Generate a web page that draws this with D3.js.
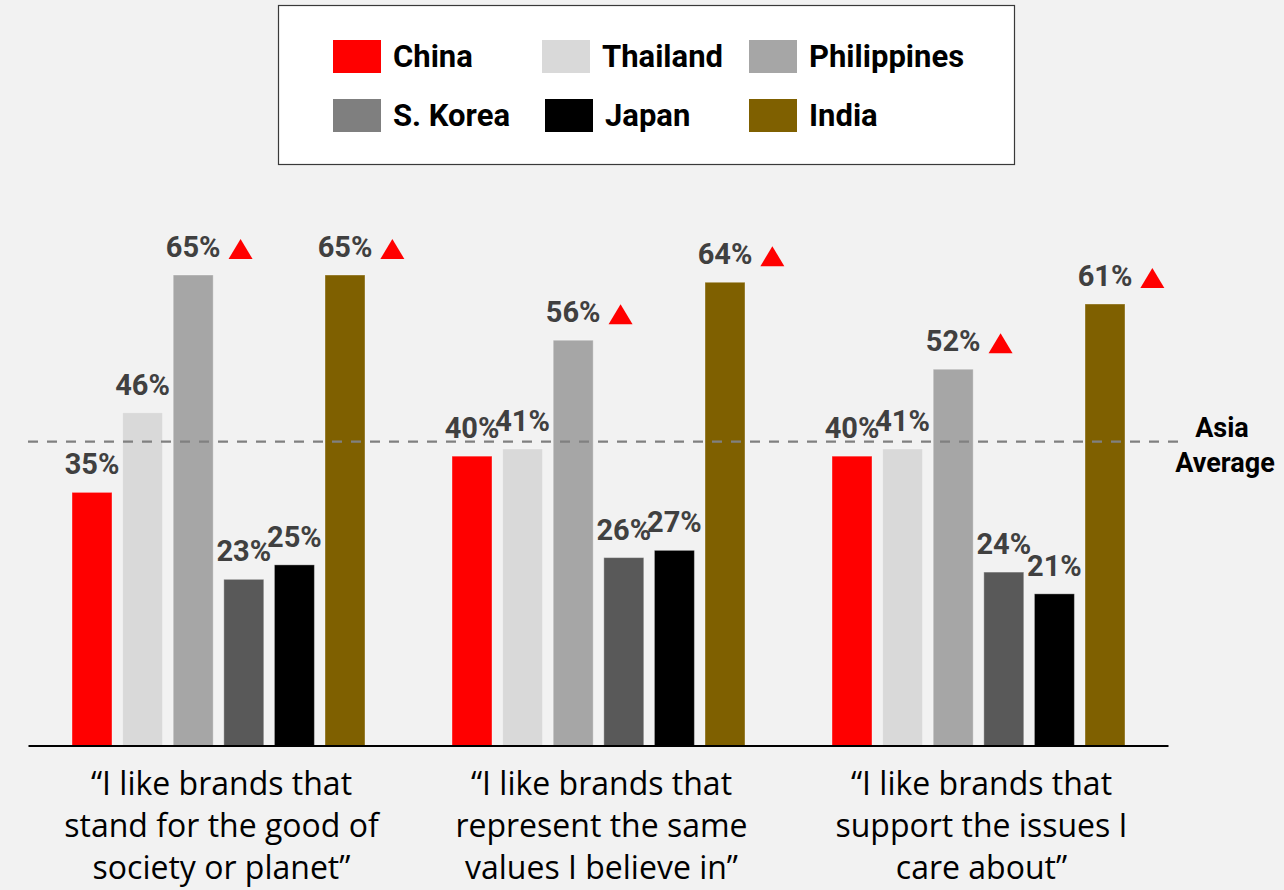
<!DOCTYPE html>
<html>
<head>
<meta charset="utf-8">
<script src="https://cdn.jsdelivr.net/npm/d3@7"></script>
<style>
  html, body { margin: 0; padding: 0; background: #f2f2f2; }
  svg { display: block; }
</style>
</head>
<body>
<svg id="chart" width="1284" height="890"></svg>
<script>
// Survey statements (one group per statement)
const statements = [
  ["“I like brands that", "stand for the good of", "society or planet”"],
  ["“I like brands that", "represent the same", "values I believe in”"],
  ["“I like brands that", "support the issues I", "care about”"]
];
const markets = ["China", "Thailand", "Philippines", "S. Korea", "Japan", "India"];

// Share agreeing, per market, per statement (%)
const chinaValues       = [35, 40, 40];
const thailandValues    = [46, 41, 41];
const philippinesValues = [65, 56, 52];
const koreaValues       = [23, 26, 24];
const japanValues       = [25, 27, 21];
const indiaValues       = [65, 64, 61];
const asiaAverage = 42;

// Markets flagged as above the Asia average
const flagged = ["Philippines", "India"];

const barColors    = ["#ff0000", "#d9d9d9", "#a6a6a6", "#595959", "#000000", "#7f6000"];
const legendColors = ["#ff0000", "#d9d9d9", "#a6a6a6", "#7f7f7f", "#000000", "#7f6000"];

const seriesValues = [chinaValues, thailandValues, philippinesValues, koreaValues, japanValues, indiaValues];
const groupIds = statements.map((d, i) => i);

const svg = d3.select("#chart");
const boldFont = "Roboto, 'DejaVu Sans Condensed', sans-serif";

const x0 = d3.scaleBand().domain(groupIds).range([28.5, 1168.5]).padding(0);
const x1 = d3.scaleBand().domain(markets).range([0, x0.bandwidth()])
  .paddingInner(0.21).paddingOuter(0.86);
const y = d3.scaleLinear().domain([0, 100]).range([746, 21.4]);

// Bars
const groups = svg.append("g").selectAll("g")
  .data(groupIds).join("g")
  .attr("transform", g => `translate(${x0(g)},0)`);

const cells = groups.selectAll("g.cell")
  .data(g => markets.map((m, i) => ({ g, m, i, v: seriesValues[i][g] })))
  .join("g").attr("class", "cell");

cells.append("rect")
  .attr("x", d => x1(d.m))
  .attr("y", d => y(d.v))
  .attr("width", x1.bandwidth())
  .attr("height", d => y(0) - y(d.v))
  .attr("fill", d => barColors[d.i])
  .attr("stroke", "#ffffff")
  .attr("stroke-opacity", 0.35)
  .attr("stroke-width", 1);

// Value labels
const labels = cells.append("text")
  .attr("x", d => x1(d.m) + x1.bandwidth() / 2)
  .attr("y", d => y(d.v) - 18)
  .attr("text-anchor", "middle")
  .attr("font-family", boldFont)
  .attr("font-weight", "bold")
  .attr("font-size", 29)
  .attr("fill", "#404040")
  .text(d => d.v + "%");

// Red up-triangles after labels of flagged markets
labels.each(function(d) {
  if (!flagged.includes(d.m)) return;
  const w = this.getComputedTextLength();
  const cx = x1(d.m) + x1.bandwidth() / 2 + w / 2 + 20;
  const by = y(d.v) - 16;
  d3.select(this.parentNode).append("path")
    .attr("d", `M${cx - 12},${by} L${cx + 12},${by} L${cx},${by - 20} Z`)
    .attr("fill", "#ff0000");
});

// Baseline
svg.append("line")
  .attr("x1", x0.range()[0]).attr("x2", x0.range()[1])
  .attr("y1", y(0)).attr("y2", y(0))
  .attr("stroke", "#000").attr("stroke-width", 2);

// Asia average reference line
svg.append("line")
  .attr("x1", 28).attr("x2", 1183)
  .attr("y1", y(asiaAverage)).attr("y2", y(asiaAverage))
  .attr("stroke", "#808080").attr("stroke-width", 2.2)
  .attr("stroke-dasharray", "10,9");

const avgText = svg.append("text")
  .attr("font-family", boldFont)
  .attr("font-weight", "bold")
  .attr("font-size", 27)
  .attr("fill", "#000")
  .attr("text-anchor", "middle");
avgText.append("tspan").attr("x", 1222).attr("y", 437).text("Asia");
avgText.append("tspan").attr("x", 1225).attr("y", 472).text("Average");

// Category labels
svg.append("g").selectAll("text")
  .data(groupIds).join("text")
  .attr("text-anchor", "middle")
  .attr("font-family", "'Open Sans', 'Liberation Sans', sans-serif")
  .attr("font-size", 32)
  .attr("fill", "#000")
  .each(function(g) {
    d3.select(this).selectAll("tspan")
      .data(statements[g]).join("tspan")
      .attr("x", x0(g) + x0.bandwidth() / 2 + 3)
      .attr("y", (d, i) => 795 + i * 42)
      .text(d => d);
  });

// Legend
const legend = svg.append("g");
legend.append("rect")
  .attr("x", 278.5).attr("y", 5.5).attr("width", 736).attr("height", 159)
  .attr("fill", "#ffffff").attr("stroke", "#3a3a3a").attr("stroke-width", 1.2);

const legendX = [333, 542, 749];
const legendY = [40, 99];
const items = legend.selectAll("g.item")
  .data(markets).join("g").attr("class", "item")
  .attr("transform", (d, i) => `translate(${legendX[i % 3] + (i === 4 ? 3 : 0)},${legendY[Math.floor(i / 3)]})`);
items.append("rect")
  .attr("width", 48).attr("height", 33)
  .attr("fill", (d, i) => legendColors[i]);
items.append("text")
  .attr("x", 60).attr("y", 27)
  .attr("font-family", boldFont)
  .attr("font-weight", "bold")
  .attr("font-size", 31)
  .attr("fill", "#000")
  .text(d => d);
</script>
</body>
</html>
